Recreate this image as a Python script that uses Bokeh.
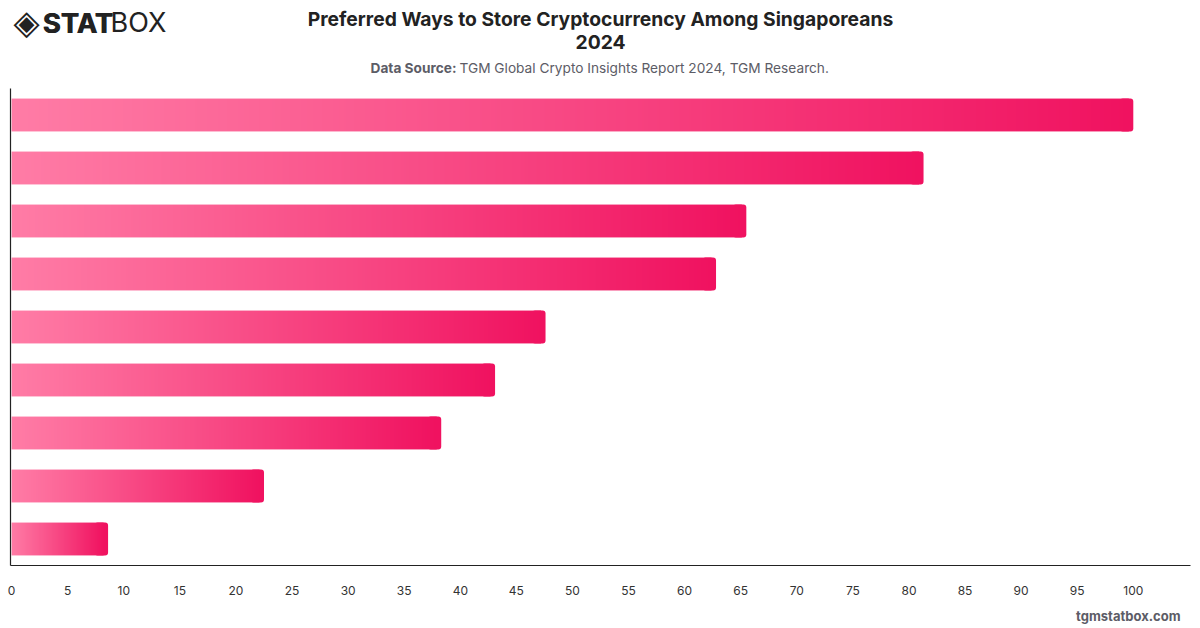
import numpy as np
from bokeh.plotting import figure
from bokeh.layouts import column
from bokeh.models import Range1d
from bokeh.core.properties import value
from bokeh.embed import file_html
from bokeh.resources import INLINE

# Share of respondents (%) per storage method, ranked from most to least preferred
ranks = [1, 2, 3, 4, 5, 6, 7, 8, 9]
shares = [100, 81.3, 65.5, 62.8, 47.6, 43.1, 38.3, 22.5, 8.6]
x_ticks = list(range(0, 101, 5))

TITLE = "Preferred Ways to Store Cryptocurrency Among Singaporeans"
YEAR = "2024"
SOURCE_LEAD = "Data Source:"
SOURCE_TEXT = "TGM Global Crypto Insights Report 2024, TGM Research."
SITE = "tgmstatbox.com"

W = 1200
HEADER_H = 88
FRAME_H = 477
AXIS_H = 32
FOOTER_H = 628 - HEADER_H - FRAME_H - AXIS_H
PANEL_INSET = 10  # horizontal inset of the frame inside the text strips

LIGHT = (255, 124, 166)
DARK = (240, 18, 96)
BAR_H = 0.62
INK = "#222222"
MUTED = "#5c5c66"


def gradient_strip(n=600):
    """A 1 x n RGBA strip going from LIGHT to DARK, stretched over each bar."""
    t = np.linspace(0.0, 1.0, n)
    img = np.empty((1, n), dtype=np.uint32)
    view = img.view(dtype=np.uint8).reshape((1, n, 4))
    for i in range(3):
        view[0, :, i] = np.round(LIGHT[i] + (DARK[i] - LIGHT[i]) * t).astype(np.uint8)
    view[0, :, 3] = 255
    return img


def pixel_panel(height):
    """A borderless strip whose data units are page pixels (y grows downward)."""
    f = figure(width=W, height=height, output_backend="svg", toolbar_location=None,
               x_range=Range1d(PANEL_INSET, W - PANEL_INSET), y_range=Range1d(height, 0),
               min_border=0, min_border_left=0, min_border_right=0,
               min_border_top=0, min_border_bottom=0,
               x_axis_type=None, y_axis_type=None)
    f.outline_line_color = None
    f.xgrid.visible = False
    f.ygrid.visible = False
    return f


def put(f, text, x, y, size, color, style="normal", align="left", font="Inter"):
    f.text(x=[x], y=[y], text=[text], text_font=value(font), text_font_size=size,
           text_font_style=style, text_color=color, text_align=align,
           text_baseline="middle")


# header: brand mark, title and source line
head = pixel_panel(HEADER_H)
put(head, "\u25c8", 13, 21, "34px", INK, "normal", "left", "DejaVu Sans")
for dx in (0, 0.8):  # double strike for a heavier wordmark
    put(head, "STAT", 42 + dx, 22, "27.5px", INK, "bold", "left")
put(head, "BOX", 110, 22, "27px", INK, "normal", "left")
put(head, TITLE, 600, 18, "19.3px", INK, "bold", "center")
put(head, YEAR, 600, 41, "19.3px", INK, "bold", "center")
put(head, SOURCE_LEAD, 456, 67, "13.7px", MUTED, "bold", "right")
put(head, SOURCE_TEXT, 459, 67, "13.7px", MUTED, "normal", "left")

# main chart
dark_hex = "#{:02x}{:02x}{:02x}".format(*DARK)
p = figure(
    width=W, height=FRAME_H + AXIS_H,
    output_backend="svg", toolbar_location=None,
    x_range=Range1d(-0.1, 105.1),
    y_range=Range1d(9.5, 0.5),
    min_border_left=10, min_border_right=10,
    min_border_top=0, min_border_bottom=AXIS_H,
)
p.outline_line_color = None
p.xgrid.visible = False
p.ygrid.visible = False

# rounded end caps, then the gradient body laid over them
p.hbar(y=ranks, left=[v - 1.2 for v in shares], right=shares, height=BAR_H,
       fill_color=dark_hex, line_color=None, border_radius=3)
strip = gradient_strip()
p.image_rgba(
    image=[strip] * len(shares),
    x=[0] * len(shares),
    y=[r - BAR_H / 2 for r in ranks],
    dw=[v - 0.4 for v in shares],
    dh=[BAR_H] * len(shares),
)

xa = p.xaxis[0]
xa.ticker = x_ticks
xa.axis_line_color = INK
xa.axis_line_width = 1.2
xa.major_tick_line_color = None
xa.minor_tick_line_color = None
xa.major_label_standoff = 14
xa.major_label_text_font = "Inter"
xa.major_label_text_font_size = "12px"
xa.major_label_text_color = "#333333"

ya = p.yaxis[0]
ya.ticker = []
ya.axis_line_color = INK
ya.axis_line_width = 1.2
ya.major_tick_line_color = None
ya.minor_tick_line_color = None

# footer: site name
foot = pixel_panel(FOOTER_H)
put(foot, SITE, 1180, FOOTER_H - 13, "13px", MUTED, "bold", "right")

page = column(head, p, foot, spacing=0)
open("out.html", "w").write(file_html(page, INLINE))
